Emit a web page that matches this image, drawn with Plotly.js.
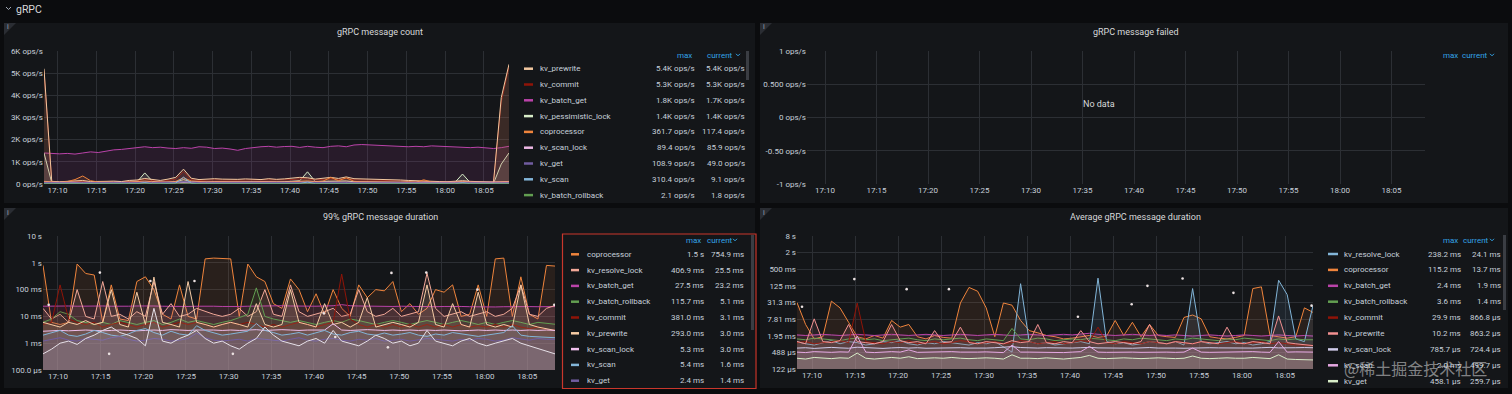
<!DOCTYPE html>
<html><head><meta charset="utf-8">
<script src="https://cdn.plot.ly/plotly-3.0.1.min.js"></script>
<style>html,body{margin:0;padding:0;background:#0b0c0e;overflow:hidden}#chart{width:1512px;height:394px}</style>
</head><body><div id="chart"></div>
<script>
// ---------- DATA ----------
const DAY = '2024-01-01 ';
const minutes = ['17:08','17:09','17:10','17:11','17:12','17:13','17:14',
 '17:15','17:16','17:17','17:18','17:19','17:20','17:21','17:22','17:23','17:24',
 '17:25','17:26','17:27','17:28','17:29','17:30','17:31','17:32','17:33','17:34',
 '17:35','17:36','17:37','17:38','17:39','17:40','17:41','17:42','17:43','17:44',
 '17:45','17:46','17:47','17:48','17:49','17:50','17:51','17:52','17:53','17:54',
 '17:55','17:56','17:57','17:58','17:59','18:00','18:01','18:02','18:03','18:04',
 '18:05','18:06','18:07','18:08'];
const xTickLabels = ['17:10','17:15','17:20','17:25','17:30','17:35','17:40','17:45','17:50','17:55','18:00','18:05'];

// Panel 1: gRPC message count (ops/s)
const p1_kv_prewrite = [5200,120,100,110,130,160,110, 100,120,130,110,160, 180,250,200,160,220, 300,670,260,200,220, 240,220,200,210,230, 220,200,240,210,230, 250,300,280,220,260, 300,250,320,240,230, 240,220,230,200,180, 160,140,150,120,110, 100,110,150,120,100, 90,80,3900,5400];
const p1_kv_commit = [5100,90,80,90,100,120,90, 80,90,100,90,120, 140,200,150,120,160, 220,560,200,160,180, 190,180,160,170,180, 180,160,190,170,190, 200,240,230,180,210, 240,200,260,190,180, 190,180,180,160,140, 130,110,120,100,90, 80,90,120,100,80, 70,60,3700,5300];
const p1_kv_batch_get = [1400,1380,1360,1380,1350,1400,1450, 1420,1480,1540,1560,1600, 1650,1680,1640,1660,1620, 1600,1640,1610,1680,1660, 1600,1620,1580,1520,1600, 1650,1680,1700,1660,1690, 1700,1650,1700,1660,1640, 1700,1720,1680,1760,1780, 1760,1740,1720,1700,1700, 1680,1700,1680,1720,1700, 1680,1660,1650,1640,1660, 1620,1600,1640,1700];
const p1_kv_pessimistic_lock = [1400,60,40,40,50,60,50, 40,50,60,50,70, 90,500,120,70,80, 90,200,100,80,90, 100,90,80,90,100, 90,80,100,90,100, 120,150,550,110,120, 130,110,140,100,90, 100,90,90,80,70, 60,50,60,50,40, 40,60,450,60,40, 30,30,900,1400];
const p1_coprocessor = [120,100,80,110,200,361,150, 90,80,100,70,90, 110,130,100,90,80, 120,280,140,100,90, 110,100,90,80,100, 90,110,100,80,90, 100,120,140,100,130, 300,150,280,120,100, 90,110,100,90,80, 100,80,190,90,80, 70,90,100,80,90, 80,100,110,117];
const p1_kv_scan_lock = [80,75,70,72,78,80,76, 74,72,78,80,82, 84,86,80,82,78, 80,89,84,80,82, 84,82,80,78,80, 82,84,86,82,80, 82,84,86,84,82, 86,84,88,84,82, 84,82,80,82,80, 78,80,82,78,76, 78,80,84,82,80, 82,84,86,86];
const p1_kv_get = [60,50,45,48,52,60,55, 50,48,52,55,60, 62,80,58,55,60, 65,109,70,60,58, 60,58,55,52,56, 58,60,62,58,55, 60,70,75,62,60, 68,62,70,58,55, 56,54,52,50,48, 50,46,48,45,44, 46,48,60,50,46, 45,44,47,49];
const p1_kv_scan = [10,8,6,8,10,20,8, 6,8,10,8,12, 15,60,12,10,14, 40,310,30,12,10, 12,10,8,10,12, 10,8,12,10,9, 12,20,90,14,12, 30,12,25,10,8, 9,8,10,9,8, 7,8,20,8,7, 6,8,60,10,8, 7,8,9,9];
const p1_kv_batch_rollback = [1.5,1.2,1.0,1.2,1.4,1.6,1.3, 1.2,1.4,1.5,1.3,1.6, 1.7,2.0,1.6,1.5,1.7, 1.8,2.1,1.7,1.6,1.5, 1.6,1.5,1.4,1.5,1.6, 1.5,1.4,1.6,1.5,1.7, 1.8,1.9,2.0,1.7,1.6, 1.9,1.7,1.8,1.6,1.5, 1.6,1.5,1.4,1.5,1.4, 1.3,1.4,1.6,1.4,1.3, 1.2,1.4,1.9,1.5,1.4, 1.3,1.5,1.7,1.8];
const p1Names = ['kv_prewrite','kv_commit','kv_batch_get','kv_pessimistic_lock','coprocessor','kv_scan_lock','kv_get','kv_scan','kv_batch_rollback'];
const p1Colors = ['#F2C8A0','#8F1408','#BA43A9','#D8EDC8','#EF843C','#EDB8E5','#705DA0','#82B5D8','#629E51'];
const p1Max = ['5.4K ops/s','5.3K ops/s','1.8K ops/s','1.4K ops/s','361.7 ops/s','89.4 ops/s','108.9 ops/s','310.4 ops/s','2.1 ops/s'];
const p1Cur = ['5.4K ops/s','5.3K ops/s','1.7K ops/s','1.4K ops/s','117.4 ops/s','85.9 ops/s','49.0 ops/s','9.1 ops/s','1.8 ops/s'];
const p1TickVals = [0,1000,2000,3000,4000,5000,6000];
const p1TickText = ['0 ops/s','1K ops/s','2K ops/s','3K ops/s','4K ops/s','5K ops/s','6K ops/s'];

// Panel 2: gRPC message failed (no data)
const p2TickVals = [-1,-0.5,0,0.5,1];
const p2TickText = ['-1 ops/s','-0.50 ops/s','0 ops/s','0.500 ops/s','1 ops/s'];

// Panel 3: 99% gRPC message duration (seconds)
const p3_coprocessor = [0.8,0.006,0.005,0.006,0.9,0.4,0.35, 0.006,0.15,0.008,0.007,0.2, 0.3,0.1,0.012,0.008,0.15, 0.01,0.008,1.4,1.5,1.45, 1.4,0.01,0.9,0.3,0.2, 0.03,0.02,0.25,0.1,0.015, 0.07,0.012,0.1,0.02,0.01, 0.15,0.05,0.1,0.09,0.2, 0.015,0.03,0.012,0.02,0.1, 0.08,0.15,0.01,0.012,0.15, 0.01,1.4,1.5,0.01,0.3, 0.012,0.008,0.8,0.755];
const p3_kv_resolve_lock = [0.02,0.008,0.012,0.006,0.1,0.01,0.008, 0.2,0.01,0.012,0.008,0.015, 0.01,0.2,0.012,0.03,0.01, 0.012,0.02,0.015,0.012,0.01, 0.012,0.02,0.01,0.015,0.1, 0.012,0.01,0.15,0.015,0.01, 0.012,0.015,0.02,0.01,0.012, 0.1,0.015,0.01,0.012,0.02, 0.01,0.012,0.015,0.407,0.02, 0.01,0.012,0.015,0.01,0.012, 0.015,0.01,0.012,0.02,0.15, 0.012,0.01,0.02,0.0255];
const p3_kv_batch_get = [0.024,0.0245,0.025,0.0245,0.024,0.0245,0.025, 0.0245,0.024,0.0235,0.024,0.0245, 0.025,0.0245,0.024,0.0235,0.023, 0.0235,0.024,0.0245,0.024,0.0235, 0.023,0.0235,0.024,0.0245,0.025, 0.0255,0.025,0.0245,0.024,0.0235, 0.024,0.0245,0.025,0.0275,0.025, 0.0245,0.024,0.0235,0.023,0.0235, 0.024,0.0235,0.023,0.0225,0.023, 0.0235,0.024,0.0235,0.023,0.0225, 0.022,0.0225,0.023,0.0235,0.023, 0.0232,0.023,0.0235,0.0232];
const p3_kv_batch_rollback = [0.006,0.008,0.015,0.012,0.007,0.006,0.005, 0.006,0.005,0.007,0.006,0.005, 0.006,0.007,0.005,0.006,0.008, 0.006,0.007,0.006,0.005,0.006, 0.007,0.009,0.012,0.116,0.01, 0.008,0.007,0.006,0.007,0.006, 0.005,0.006,0.007,0.006,0.008, 0.007,0.006,0.005,0.006,0.007, 0.006,0.005,0.006,0.007,0.006, 0.005,0.006,0.007,0.006,0.005, 0.006,0.005,0.006,0.007,0.006, 0.005,0.006,0.0055,0.0051];
const p3_kv_commit = [0.005,0.006,0.15,0.008,0.006,0.005,0.006, 0.004,0.005,0.006,0.005,0.004, 0.005,0.006,0.004,0.005,0.006, 0.005,0.006,0.005,0.004,0.005, 0.006,0.005,0.006,0.005,0.004, 0.005,0.004,0.005,0.006,0.005, 0.004,0.005,0.006,0.381,0.008, 0.005,0.004,0.005,0.004,0.005, 0.004,0.005,0.004,0.005,0.004, 0.005,0.004,0.005,0.004,0.0045, 0.004,0.005,0.004,0.005,0.004, 0.0035,0.004,0.0032,0.0031];
const p3_kv_prewrite = [0.006,0.005,0.004,0.006,0.005,0.007,0.005, 0.006,0.1,0.005,0.004,0.08, 0.005,0.293,0.006,0.005,0.004, 0.2,0.006,0.005,0.004,0.005, 0.006,0.005,0.004,0.03,0.005, 0.004,0.005,0.1,0.006,0.005, 0.004,0.03,0.005,0.006,0.004, 0.006,0.05,0.004,0.005,0.006, 0.005,0.004,0.006,0.15,0.005, 0.004,0.03,0.005,0.004,0.08, 0.005,0.004,0.005,0.004,0.15, 0.005,0.004,0.0035,0.003];
const p3_kv_scan_lock = [0.0028,0.0029,0.003,0.0029,0.003,0.0031,0.003, 0.0029,0.003,0.0031,0.003,0.0029, 0.003,0.0031,0.003,0.0032,0.0031, 0.003,0.0031,0.0032,0.0031,0.003, 0.0031,0.003,0.0031,0.0032,0.003, 0.0031,0.0032,0.0031,0.003,0.0031, 0.0032,0.0031,0.0053,0.0031,0.003, 0.0031,0.0032,0.0031,0.003,0.0031, 0.003,0.0031,0.003,0.0031,0.003, 0.0031,0.003,0.0029,0.003,0.0031, 0.003,0.0031,0.003,0.0031,0.003, 0.0031,0.003,0.0031,0.003];
const p3_kv_scan = [0.002,0.0025,0.003,0.002,0.0018,0.0022,0.003, 0.0025,0.002,0.0018,0.0022,0.003, 0.0035,0.0025,0.002,0.0028,0.0022, 0.002,0.0045,0.003,0.0025,0.002, 0.0022,0.0025,0.0028,0.0054,0.003, 0.0025,0.002,0.0022,0.0025,0.002, 0.0025,0.003,0.0022,0.002,0.0025, 0.0028,0.0022,0.002,0.0024,0.002, 0.0022,0.0025,0.002,0.0018,0.0022, 0.002,0.0025,0.0022,0.002,0.0018, 0.002,0.0022,0.0025,0.0045,0.002, 0.0018,0.0017,0.0016,0.0016];
const p3_kv_get = [0.0012,0.0014,0.0016,0.0013,0.0012,0.0015,0.0014, 0.0013,0.0016,0.0018,0.0014,0.0012, 0.0013,0.0015,0.0014,0.0012,0.0013, 0.0015,0.0024,0.0016,0.0013,0.0012, 0.0013,0.0014,0.0012,0.0015,0.0014, 0.0013,0.0012,0.0014,0.0016,0.0013, 0.0012,0.0014,0.0015,0.0013,0.0012, 0.0014,0.0013,0.0015,0.0012,0.0013, 0.0014,0.0012,0.0013,0.0015,0.0014, 0.0013,0.0012,0.0014,0.0013,0.0015, 0.0014,0.0012,0.0013,0.0016,0.0014, 0.0013,0.0015,0.0014,0.0014];
const p3_kv_pessimistic_lock = [0.0004,0.0006,0.001,0.0012,0.0009,0.0015,0.002, 0.003,0.004,0.0025,0.002,0.0015, 0.0008,0.02,0.0012,0.001,0.0015, 0.002,0.003,0.0015,0.001,0.0012, 0.0008,0.0006,0.001,0.0015,0.004, 0.002,0.0012,0.001,0.0008,0.0012, 0.0015,0.001,0.003,0.0012,0.001, 0.0008,0.0012,0.002,0.0015,0.001, 0.0012,0.0008,0.001,0.003,0.0012, 0.001,0.0008,0.0012,0.0015,0.001, 0.0008,0.001,0.0012,0.0015,0.001, 0.0008,0.0006,0.0005,0.0004];
const p3DotTimes = ['17:08:55','17:14:55','17:20:50','17:26:00','17:16:00','17:30:30','17:41:10','17:42:30','17:49:05','17:53:10','17:59:10','18:08:10','17:48:40'];
const p3DotValues = [0.027,0.43,0.21,0.21,0.0004,0.0004,0.013,0.0017,0.42,0.43,0.1,0.027,0.0007];
const p3Names = ['coprocessor','kv_resolve_lock','kv_batch_get','kv_batch_rollback','kv_commit','kv_prewrite','kv_scan_lock','kv_scan','kv_get'];
const p3Colors = ['#EF843C','#F2A898','#BA43A9','#629E51','#8F1408','#F6CBA4','#F0C0EE','#82B5D8','#705DA0'];
const p3Max = ['1.5 s','406.9 ms','27.5 ms','115.7 ms','381.0 ms','293.0 ms','5.3 ms','5.4 ms','2.4 ms'];
const p3Cur = ['754.9 ms','25.5 ms','23.2 ms','5.1 ms','3.1 ms','3.0 ms','3.0 ms','1.6 ms','1.4 ms'];
const p3TickVals = [0.0001,0.001,0.01,0.1,1,10];
const p3TickText = ['100.0 µs','1 ms','10 ms','100 ms','1 s','10 s'];

// Panel 4: Average gRPC message duration (seconds)
const p4_kv_resolve_lock = [0.0012,0.001,0.0009,0.0011,0.0013,0.001,0.0012, 0.0011,0.0009,0.001,0.0012,0.0011, 0.0013,0.001,0.0009,0.0011,0.001, 0.0012,0.0011,0.001,0.0009,0.0011, 0.001,0.0012,0.0008,0.0005,0.15, 0.0012,0.001,0.0011,0.0009,0.001, 0.0011,0.0012,0.001,0.238,0.0012, 0.001,0.0011,0.0009,0.001,0.0012, 0.0011,0.001,0.0012,0.0009,0.1, 0.0012,0.001,0.0011,0.0012,0.001, 0.0011,0.0009,0.001,0.0012,0.2, 0.06,0.0015,0.0012,0.0241];
const p4_coprocessor = [0.031,0.005,0.0015,0.0018,0.035,0.02,0.006, 0.0018,0.0015,0.002,0.0016,0.007, 0.004,0.005,0.0018,0.0015,0.002, 0.0017,0.0016,0.03,0.11,0.08, 0.02,0.0018,0.03,0.025,0.007, 0.003,0.0025,0.002,0.0018,0.0015, 0.0016,0.0018,0.002,0.0017,0.0019, 0.007,0.002,0.006,0.0018,0.005, 0.002,0.0018,0.0017,0.009,0.011, 0.008,0.0018,0.0016,0.0015,0.0017, 0.002,0.1,0.115,0.002,0.0018, 0.0016,0.0018,0.02,0.0137];
const p4_kv_batch_get = [0.0021,0.002,0.0021,0.0022,0.0021,0.002,0.0021, 0.0022,0.0021,0.002,0.0021,0.0022, 0.0021,0.002,0.0021,0.0022,0.0021, 0.002,0.0021,0.0022,0.0021,0.002, 0.0021,0.0022,0.0021,0.002,0.0021, 0.0022,0.0021,0.002,0.0021,0.0022, 0.0021,0.0022,0.0024,0.0022,0.0021, 0.002,0.0021,0.0022,0.0021,0.002, 0.0021,0.002,0.0021,0.002,0.0019, 0.002,0.0021,0.002,0.0019,0.002, 0.0021,0.002,0.0019,0.002,0.0021, 0.002,0.0019,0.002,0.0019];
const p4_kv_batch_rollback = [0.0015,0.0014,0.0016,0.0015,0.0014,0.0013,0.0015, 0.0016,0.0014,0.0015,0.0013,0.0014, 0.0015,0.0016,0.0014,0.0013,0.0015, 0.0014,0.0015,0.0016,0.0014,0.0013, 0.0015,0.0014,0.0013,0.0036,0.0015, 0.0014,0.0016,0.0015,0.0013,0.0014, 0.0015,0.0014,0.0016,0.0015,0.0014, 0.0013,0.0015,0.0014,0.0016,0.0015, 0.0014,0.0013,0.0015,0.0014,0.0016, 0.0015,0.0014,0.0013,0.0015,0.0014, 0.0016,0.0015,0.0014,0.0013,0.0015, 0.0014,0.0015,0.0014,0.0014];
const p4_kv_commit = [0.0011,0.0012,0.001,0.0011,0.0012,0.0013,0.0011, 0.0299,0.0012,0.0011,0.001,0.0012, 0.0011,0.0013,0.001,0.0011,0.0012, 0.001,0.0011,0.0013,0.0012,0.001, 0.0011,0.0012,0.001,0.0011,0.0013, 0.0012,0.001,0.0011,0.0012,0.001, 0.0011,0.0013,0.0012,0.004,0.0011, 0.001,0.0012,0.0011,0.001,0.0012, 0.0011,0.001,0.0012,0.0011,0.001, 0.0012,0.0011,0.001,0.0011,0.0012, 0.001,0.0011,0.0012,0.001,0.0011, 0.001,0.0009,0.0009,0.00087];
const p4_kv_prewrite = [0.0012,0.001,0.008,0.0012,0.0011,0.0013,0.005, 0.0012,0.0011,0.001,0.0012,0.005, 0.0013,0.0011,0.0012,0.001,0.003, 0.0011,0.0012,0.004,0.0011,0.001, 0.0012,0.0011,0.001,0.0013,0.0011, 0.0012,0.005,0.0011,0.001,0.0012, 0.0011,0.003,0.0012,0.001,0.0011, 0.0012,0.0011,0.001,0.0012,0.005, 0.0011,0.001,0.0012,0.0011,0.001, 0.0012,0.0011,0.001,0.004,0.0011, 0.001,0.0012,0.0011,0.001,0.0102, 0.0011,0.001,0.0009,0.00086];
const p4_kv_scan_lock = [0.0007,0.00072,0.00068,0.0007,0.00074,0.00071,0.00069, 0.00075,0.00072,0.0007,0.00068,0.00071, 0.00073,0.0007,0.00072,0.00069,0.0007, 0.00071,0.00074,0.00072,0.0007,0.00068, 0.0007,0.00072,0.00075,0.00079,0.00073, 0.00071,0.0007,0.00072,0.0007,0.00069, 0.0007,0.00072,0.00074,0.00071,0.0007, 0.00072,0.0007,0.00069,0.00071,0.00073, 0.0007,0.00072,0.0007,0.00069,0.00071, 0.0007,0.00072,0.00071,0.0007,0.00072, 0.00071,0.0007,0.00072,0.00074,0.00071, 0.0007,0.00072,0.00073,0.00072];
const p4_kv_scan = [0.0005,0.00048,0.00052,0.0005,0.00049,0.00051,0.0005, 0.0019,0.0005,0.00048,0.0005,0.00052, 0.0005,0.0006,0.00049,0.0005,0.00051, 0.0005,0.00052,0.0005,0.00049,0.0005, 0.00051,0.0005,0.00048,0.0009,0.0005, 0.0005,0.00049,0.00051,0.0005,0.00048, 0.0005,0.00052,0.0008,0.0005,0.00049, 0.0005,0.00051,0.0005,0.00049,0.0005, 0.00051,0.0005,0.00049,0.0005,0.0007, 0.0005,0.00049,0.0005,0.00051,0.0005, 0.0005,0.00052,0.0005,0.00049,0.0012, 0.0005,0.00051,0.0005,0.0005];
const p4_kv_get = [0.0003,0.00028,0.00032,0.0003,0.00029,0.00031,0.0003, 0.00046,0.0003,0.00028,0.0003,0.00032, 0.0003,0.00034,0.00029,0.0003,0.00031, 0.0003,0.00032,0.0003,0.00029,0.0003, 0.00031,0.0003,0.00028,0.0004,0.0003, 0.0003,0.00029,0.00031,0.0003,0.00028, 0.0003,0.00032,0.00038,0.0003,0.00029, 0.0003,0.00031,0.0003,0.00029,0.0003, 0.00031,0.0003,0.00029,0.0003,0.00036, 0.0003,0.00029,0.0003,0.00031,0.0003, 0.0003,0.00032,0.0003,0.00029,0.0004, 0.00028,0.00027,0.00026,0.00026];
const p4DotTimes = ['17:08:50','17:14:55','17:21:00','17:25:55','17:40:55','17:47:10','17:49:00','17:53:05','17:59:00','18:08:05'];
const p4DotValues = [0.022,0.22,0.095,0.095,0.0095,0.027,0.125,0.23,0.07,0.024];
const p4Names = ['kv_resolve_lock','coprocessor','kv_batch_get','kv_batch_rollback','kv_commit','kv_prewrite','kv_scan_lock','kv_scan','kv_get'];
const p4Colors = ['#82B5D8','#EF843C','#BA43A9','#629E51','#8F1408','#F29191','#CFCBEA','#E5A8E2','#D8EDC8'];
const p4Max = ['238.2 ms','115.2 ms','2.4 ms','3.6 ms','29.9 ms','10.2 ms','785.7 µs','2.0 ms','458.1 µs'];
const p4Cur = ['24.1 ms','13.7 ms','1.9 ms','1.4 ms','866.8 µs','863.2 µs','724.4 µs','499.7 µs','259.7 µs'];
const p4TickVals = [0.00012207,0.00048828,0.0019531,0.0078125,0.03125,0.125,0.5,2,8];
const p4TickText = ['122 µs','488 µs','1.95 ms','7.81 ms','31.3 ms','125 ms','500 ms','2 s','8 s'];

// ---------- RENDER ----------
const W = 1512, H = 394;
const FONT = 'Roboto, "DejaVu Sans", sans-serif';
const TXT = '#c7d0d9', TITLE = '#d8d9da', BLUE = '#33a2e5';
const PANEL = '#141619', BODY = '#0b0c0e', GRID = '#2c2f34';
const T = minutes.map(m => DAY + m + ':15');
const px = x => x / W, py = y => 1 - y / H;
const shapes = [], annotations = [];

function rect(x0, y0, x1, y1, fill, layer, line) {
  shapes.push({type:'rect', xref:'paper', yref:'paper', x0:px(x0), x1:px(x1), y0:py(y1), y1:py(y0),
    fillcolor:fill, line:line || {width:0}, layer:layer || 'below'});
}
function seg(x0, y0, x1, y1, color, w) {
  shapes.push({type:'line', xref:'paper', yref:'paper', x0:px(x0), x1:px(x1), y0:py(y0), y1:py(y1),
    line:{color:color, width:w || 1}, layer:'above'});
}
function path(points, color, fill) {
  const d = points.map((p, i) => (i ? 'L' : 'M') + px(p[0]) + ',' + py(p[1])).join(' ') + (fill ? ' Z' : '');
  shapes.push({type:'path', xref:'paper', yref:'paper', path:d, fillcolor:fill || 'rgba(0,0,0,0)',
    line:{color:color, width:fill ? 0 : 1}, layer:'above'});
}
function text(x, y, t, opts) {
  const o = Object.assign({xanchor:'left', size:8, color:TXT, family:FONT}, opts || {});
  annotations.push({xref:'paper', yref:'paper', x:px(x), y:py(y), text:t, showarrow:false,
    xanchor:o.xanchor, yanchor:'middle', borderpad:0, font:{family:o.family, size:o.size, color:o.color}});
}

// panels
const panels = [[4,23,755,203],[760,23,1508,203],[4,208,755,388],[760,208,1508,388]];
panels.forEach(p => {
  rect(p[0], p[1], p[2], p[3], PANEL);
  path([[p[0],p[1]],[p[0]+12,p[1]],[p[0],p[1]+12]], '#2a2d33', '#2a2d33');
  text(p[0]+4, p[1]+4.5, 'i', {size:7, color:'#9fa7b3', xanchor:'center'});
});
// row header
path([[6,7],[8.5,9.5],[11,7]], '#9fa7b3');
text(15, 9, 'gRPC', {size:10.5, color:TITLE});

// titles
text(380, 32, 'gRPC message count', {xanchor:'center', size:9, color:TITLE});
text(1136, 32, 'gRPC message failed', {xanchor:'center', size:9, color:TITLE});
text(380, 217, '99% gRPC message duration', {xanchor:'center', size:9, color:TITLE});
text(1135, 217, 'Average gRPC message duration', {xanchor:'center', size:9, color:TITLE});
text(1099, 104, 'No data', {xanchor:'center', size:9, color:TITLE});

function header(maxC, curC, chevX, y) {
  text(maxC, y, 'max', {xanchor:'center', color:BLUE});
  text(curC, y, 'current', {xanchor:'center', color:BLUE});
  path([[chevX, y-1.2],[chevX+2, y+0.8],[chevX+4, y-1.2]], BLUE);
}
function legend(cfg, names, colors, maxes, curs) {
  names.forEach((n, i) => {
    const y = cfg.row0 + i * cfg.rowH;
    seg(cfg.sw0, y, cfg.sw1, y, colors[i], 2.5);
    text(cfg.nameX, y, n);
    text(cfg.maxR, y, maxes[i], {xanchor:'right'});
    text(cfg.curR, y, curs[i], {xanchor:'right'});
  });
}
header(684, 720, 736, 55);
legend({row0:68.7,rowH:15.8,sw0:524,sw1:533,nameX:538.5,maxR:696,curR:746}, p1Names, p1Colors, p1Max, p1Cur);
header(1450, 1475, 1490, 55);
header(693, 720, 733, 240);
legend({row0:254.3,rowH:15.8,sw0:571,sw1:579,nameX:586,maxR:705,curR:745}, p3Names, p3Colors, p3Max, p3Cur);
header(1450, 1476, 1490, 240);
legend({row0:254,rowH:15.9,sw0:1328,sw1:1338,nameX:1343,maxR:1462,curR:1502}, p4Names, p4Colors, p4Max, p4Cur);

// scrollbars
rect(746, 51, 749, 80, '#3a3d43', 'above');
rect(751, 235, 754, 330, '#3a3d43', 'above');
rect(1503, 235, 1506, 310, '#3a3d43', 'above');
// red highlight box
rect(562.5, 234, 756, 388.5, 'rgba(0,0,0,0)', 'above', {color:'#c9372c', width:1.2});
// watermark
text(1415, 368, '@稀土掘金技术社区', {xanchor:'center', size:16, color:'rgba(225,225,225,0.55)', family:'"Noto Sans CJK SC", sans-serif'});

function hexA(hex, a) {
  const n = parseInt(hex.slice(1), 16);
  return 'rgba(' + (n >> 16 & 255) + ',' + (n >> 8 & 255) + ',' + (n & 255) + ',' + a + ')';
}
const traces = [];
function addSeries(ax, vals, color, alpha) {
  traces.push({type:'scatter', mode:'lines', x:T.slice(0, vals.length), y:vals, xaxis:'x'+ax, yaxis:'y'+ax,
    line:{color:color, width:1}, fill:'tozeroy', fillcolor:hexA(color, alpha), hoverinfo:'skip', showlegend:false});
}
function addDots(ax, times, vals, color) {
  traces.push({type:'scatter', mode:'markers', x:times.map(t => DAY + t), y:vals, xaxis:'x'+ax, yaxis:'y'+ax,
    marker:{color:color, size:2.6}, hoverinfo:'skip', showlegend:false});
}
// panel 1
[[p1_kv_batch_get,2],[p1_kv_pessimistic_lock,3],[p1_kv_commit,1],[p1_kv_prewrite,0],[p1_coprocessor,4],
 [p1_kv_scan_lock,5],[p1_kv_get,6],[p1_kv_scan,7],[p1_kv_batch_rollback,8]]
 .forEach(s => addSeries('', s[0], p1Colors[s[1]], 0.12));
// panel 2 (no data)
traces.push({type:'scatter', mode:'lines', x:[], y:[], xaxis:'x2', yaxis:'y2', showlegend:false, hoverinfo:'skip'});
// panel 3
[[p3_coprocessor,0],[p3_kv_batch_get,2],[p3_kv_resolve_lock,1],[p3_kv_batch_rollback,3],[p3_kv_commit,4],
 [p3_kv_prewrite,5],[p3_kv_scan_lock,6],[p3_kv_scan,7],[p3_kv_get,8]]
 .forEach(s => addSeries('3', s[0], p3Colors[s[1]], 0.1));
addSeries('3', p3_kv_pessimistic_lock, '#E6E0E8', 0.1);
addDots('3', p3DotTimes, p3DotValues, '#ECE2E2');
// panel 4
[[p4_coprocessor,1],[p4_kv_batch_get,2],[p4_kv_resolve_lock,0],[p4_kv_batch_rollback,3],[p4_kv_commit,4],
 [p4_kv_prewrite,5],[p4_kv_scan_lock,6],[p4_kv_scan,7],[p4_kv_get,8]]
 .forEach(s => addSeries('4', s[0], p4Colors[s[1]], 0.1));
addDots('4', p4DotTimes, p4DotValues, '#ECE2E2');

const tickFont = {family:FONT, size:8, color:TXT};
function xAxis(x0, x1, anchor) {
  return {domain:[px(x0), px(x1)], anchor:anchor, type:'date', range:[DAY+'17:08:15', DAY+'18:08:15'],
    tickvals:xTickLabels.map(t => DAY + t), ticktext:xTickLabels,
    showgrid:true, gridcolor:GRID, gridwidth:1, zeroline:false, showline:false, ticks:'',
    tickfont:tickFont, fixedrange:true, automargin:false};
}
function yAxis(y0, y1, anchor, vals, txt, range, type) {
  return {domain:[py(y1), py(y0)], anchor:anchor, type:type || 'linear', range:range,
    tickvals:vals, ticktext:txt, showgrid:true, gridcolor:GRID, gridwidth:1, zeroline:false,
    showline:false, ticks:'', tickfont:tickFont, fixedrange:true, automargin:false};
}
const layout = {
  width:W, height:H, margin:{l:0, r:0, t:0, b:0}, paper_bgcolor:BODY, plot_bgcolor:'rgba(0,0,0,0)',
  showlegend:false, font:{family:FONT, color:TXT},
  xaxis: xAxis(44, 509, 'y'),
  yaxis: yAxis(51, 184, 'x', p1TickVals, p1TickText, [0, 6000]),
  xaxis2: xAxis(807, 1425, 'y2'),
  yaxis2: yAxis(51, 184, 'x2', p2TickVals, p2TickText, [-1, 1]),
  xaxis3: xAxis(43, 555, 'y3'),
  yaxis3: yAxis(236, 370, 'x3', p3TickVals, p3TickText, [-4, 1], 'log'),
  xaxis4: xAxis(797, 1313, 'y4'),
  yaxis4: yAxis(236, 369, 'x4', p4TickVals, p4TickText, [Math.log10(p4TickVals[0]), Math.log10(p4TickVals[p4TickVals.length-1])], 'log'),
  shapes: shapes, annotations: annotations
};
Plotly.newPlot('chart', traces, layout, {staticPlot:true, displayModeBar:false});
</script></body></html>
